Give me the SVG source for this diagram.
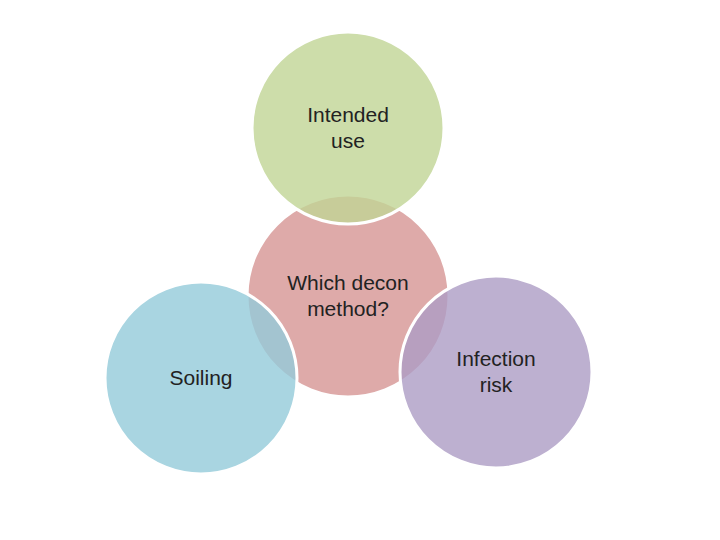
<svg xmlns="http://www.w3.org/2000/svg" width="720" height="540" viewBox="0 0 720 540">
<style>
.c{stroke:#fff;stroke-width:3;fill-opacity:0.8}
text{font-family:"Liberation Sans",Arial,sans-serif;font-size:21px;fill:#222;text-anchor:middle}
</style>
<rect width="720" height="540" fill="#fff"/>
<g id="center"><circle class="c" cx="348" cy="296" r="101" fill="#d69593"/>
<text x="348" y="290">Which decon</text><text x="348" y="316">method?</text></g>
<g id="intended"><circle class="c" cx="348" cy="128" r="96" fill="#c1d495"/>
<text x="348" y="122">Intended</text><text x="348" y="148">use</text></g>
<g id="soiling"><circle class="c" cx="201" cy="378" r="96" fill="#93cada"/>
<text x="201" y="385">Soiling</text></g>
<g id="infection"><circle class="c" cx="496" cy="372" r="96" fill="#ac9cc4"/>
<text x="496" y="366">Infection</text><text x="496" y="392">risk</text></g>
<g id="connectors"/>
</svg>
